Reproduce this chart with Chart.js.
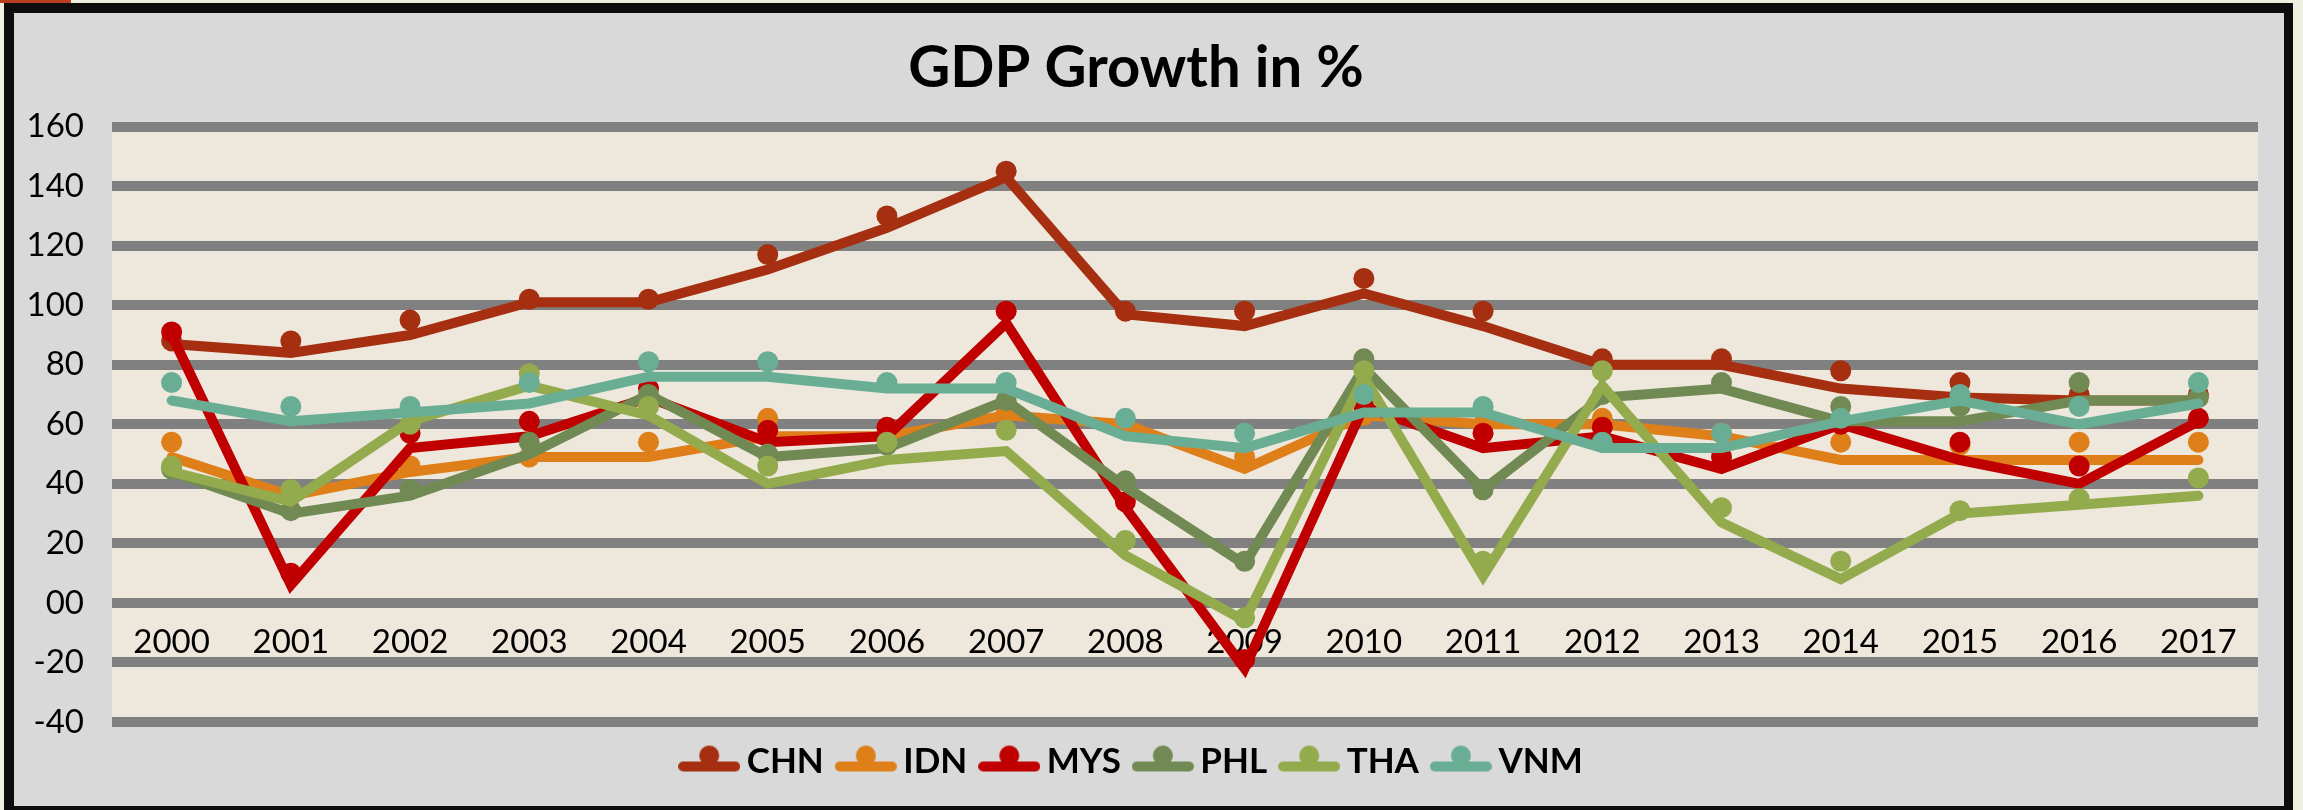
<!DOCTYPE html>
<html>
<head>
<meta charset="utf-8">
<title>GDP Growth in %</title>
<script src="https://cdn.jsdelivr.net/npm/chart.js@4.4.1/dist/chart.umd.min.js"></script>
<style>
  html, body { margin: 0; padding: 0; background: #eef0e0; overflow: hidden; }
  #corner { position: absolute; left: 0; top: 0; width: 71px; height: 3px; background: #b8401e; }
  #frame {
    position: absolute; left: 4px; top: 3px;
    width: 2270px; height: 793px;
    border: 10px solid #0d0d0d; border-right-width: 9px;
    background: #d9d9d9;
  }
  #frame canvas { display: block; }
</style>
</head>
<body>
<div id="corner"></div>
<div id="frame"><canvas id="gdpChart" width="2270" height="793"></canvas></div>
<script>
'use strict';

// Categories and y ticks
const years = ['2000', '2001', '2002', '2003', '2004', '2005', '2006', '2007', '2008',
    '2009', '2010', '2011', '2012', '2013', '2014', '2015', '2016', '2017'];
const yTickLabels = ['-40', '-20', '00', '20', '40', '60', '80', '100', '120', '140', '160'];
const yMin = -40;
const yMax = 160;
const yStep = 20;

const countries = ['CHN', 'IDN', 'MYS', 'PHL', 'THA', 'VNM'];
const colors = ['#a52f10', '#df7f1a', '#c00000', '#718952', '#93ab4c', '#69ae94'];

// Each country has a line and a separate set of dots
const chnLine = [87, 84, 90, 101, 101, 112, 126, 143, 97, 93, 104, 93, 80, 80, 72, 69, 68, 68];
const chnDots = [88, 88, 95, 102, 102, 117, 130, 145, 98, 98, 109, 98, 82, 82, 78, 74, 70, 70];

const idnLine = [49, 36, 44, 49, 49, 56, 56, 63, 60, 45, 63, 60, 60, 56, 48, 48, 48, 48];
const idnDots = [54, 37, 46, 49, 54, 62, 57, 64, 60, 49, 63, 60, 62, 57, 54, 53, 54, 54];

const mysLine = [90, 6, 52, 56, 69, 54, 56, 94, 32, -22, 66, 52, 56, 45, 60, 48, 40, 61];
const mysDots = [91, 10, 57, 61, 72, 58, 59, 98, 34, -19, 66, 57, 59, 49, 60, 54, 46, 62];

const phlLine = [44, 30, 36, 50, 70, 49, 52, 68, 39, 13, 79, 38, 69, 72, 61, 61, 68, 68];
const phlDots = [45, 31, 38, 54, 70, 50, 53, 68, 41, 14, 82, 38, 70, 74, 66, 66, 74, 69];

const thaLine = [44, 34, 61, 73, 63, 40, 48, 51, 16, -6, 76, 9, 73, 27, 8, 30, 33, 36];
const thaDots = [46, 38, 60, 77, 66, 46, 54, 58, 21, -5, 78, 14, 78, 32, 14, 31, 35, 42];

const vnmLine = [68, 61, 64, 67, 76, 76, 72, 72, 56, 52, 64, 64, 52, 52, 61, 68, 60, 67];
const vnmDots = [74, 66, 66, 74, 81, 81, 74, 74, 62, 57, 70, 66, 54, 57, 62, 70, 66, 74];

const lineSeries = [chnLine, idnLine, mysLine, phlLine, thaLine, vnmLine];
const dotSeries = [chnDots, idnDots, mysDots, phlDots, thaDots, vnmDots];

// Build datasets: later countries are drawn on top
const datasets = [];
countries.forEach((name, i) => {
    datasets.push({
        label: name,
        data: lineSeries[i],
        borderColor: colors[i],
        backgroundColor: colors[i],
        borderWidth: 10,
        borderCapStyle: 'round',
        pointRadius: 0,
        pointHoverRadius: 0,
        tension: 0,
        order: 12 - 2 * i
    });
    datasets.push({
        label: name + ' points',
        data: dotSeries[i],
        showLine: false,
        borderColor: colors[i],
        backgroundColor: colors[i],
        pointBackgroundColor: colors[i],
        pointBorderWidth: 0,
        pointRadius: 10.5,
        pointHoverRadius: 10.5,
        order: 11 - 2 * i
    });
});

// Legend marker: short line with a dot sitting on it
function legendMarker(color) {
    const c = document.createElement('canvas');
    c.width = 62;
    c.height = 34;
    const g = c.getContext('2d');
    g.strokeStyle = color;
    g.lineWidth = 10;
    g.lineCap = 'round';
    g.beginPath();
    g.moveTo(5, 22);
    g.lineTo(57, 22);
    g.stroke();
    g.fillStyle = color;
    g.beginPath();
    g.arc(31, 11, 10, 0, Math.PI * 2);
    g.fill();
    return c;
}

// Beige plot background
const plotBackground = {
    id: 'plotBackground',
    beforeDraw(chart) {
        const { ctx, chartArea } = chart;
        ctx.save();
        ctx.fillStyle = '#ede7dc';
        ctx.fillRect(chartArea.left, chartArea.top,
            chartArea.right - chartArea.left, chartArea.bottom - chartArea.top);
        ctx.restore();
    }
};

const ctx = document.getElementById('gdpChart').getContext('2d');
new Chart(ctx, {
    type: 'line',
    data: {
        labels: years,
        datasets: datasets
    },
    plugins: [plotBackground],
    options: {
        responsive: false,
        animation: false,
        devicePixelRatio: 1,
        layout: {
            padding: { left: 0, right: 26, top: 0, bottom: 17 }
        },
        plugins: {
            tooltip: { enabled: false },
            title: {
                display: true,
                text: 'GDP Growth in %',
                color: '#000',
                font: { family: 'Lato', size: 58, weight: 'bold' },
                padding: { top: 20, bottom: 24 }
            },
            legend: {
                position: 'bottom',
                labels: {
                    usePointStyle: true,
                    pointStyleWidth: 40,
                    padding: 22,
                    color: '#000',
                    font: { family: 'Lato', size: 35, weight: 'bold' },
                    generateLabels: () => countries.map((name, i) => ({
                        text: name,
                        pointStyle: legendMarker(colors[i]),
                        fillStyle: colors[i],
                        strokeStyle: colors[i],
                        lineWidth: 0,
                        hidden: false,
                        datasetIndex: i * 2,
                        fontColor: '#000'
                    }))
                }
            }
        },
        scales: {
            x: {
                position: { y: 0 },
                offset: true,
                grid: { display: false, drawTicks: false },
                border: { display: false },
                ticks: {
                    color: '#000',
                    font: { family: 'Lato', size: 33 },
                    padding: 20,
                    maxRotation: 0,
                    autoSkip: false
                }
            },
            y: {
                min: yMin,
                max: yMax,
                afterFit: (scale) => { scale.width = 98; },
                grid: { color: '#808080', lineWidth: 10, drawTicks: false },
                border: { display: false },
                ticks: {
                    stepSize: yStep,
                    padding: 28,
                    color: '#000',
                    font: { family: 'Lato', size: 33 },
                    callback: (value) => yTickLabels[Math.round((value - yMin) / yStep)]
                }
            }
        }
    }
});
</script>
</body>
</html>
